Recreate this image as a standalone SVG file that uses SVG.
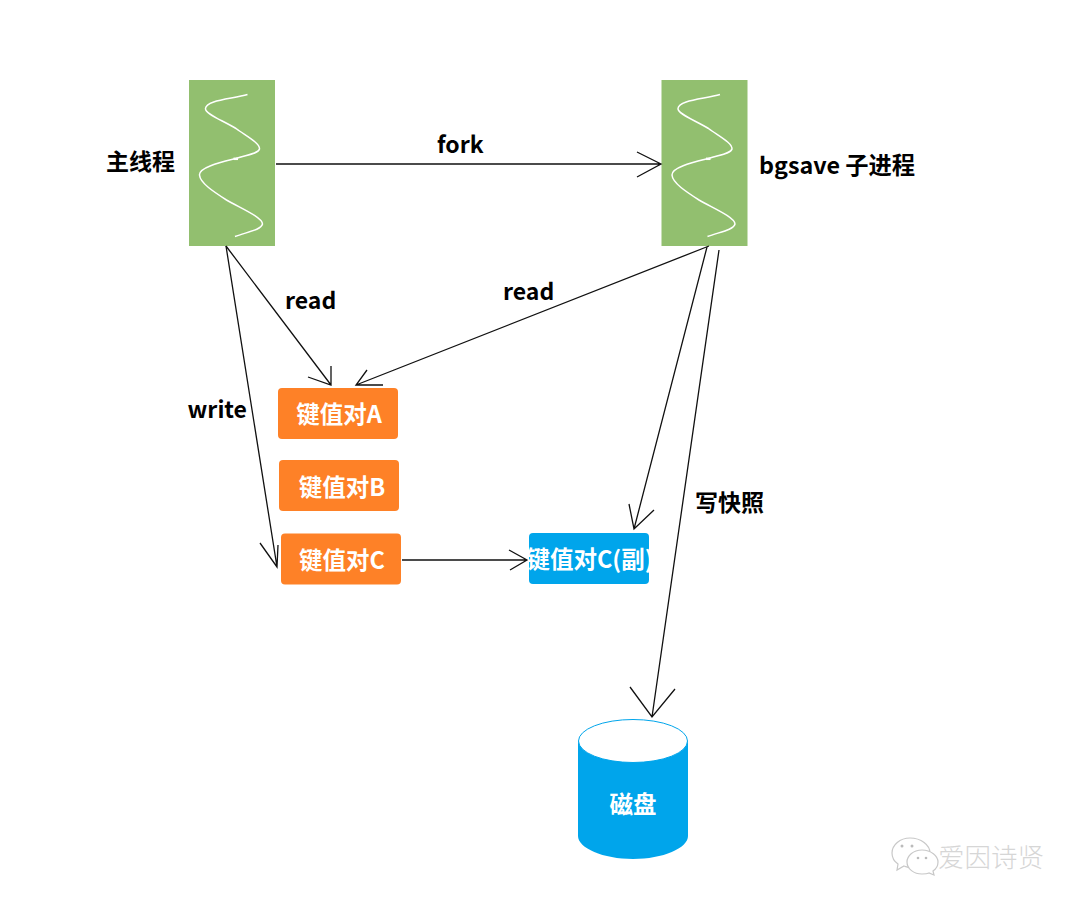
<svg xmlns="http://www.w3.org/2000/svg" width="1080" height="906" viewBox="0 0 1080 906">
<style>
text{font-family:"Noto Sans CJK SC","Liberation Sans",sans-serif;font-weight:700}
.lbl{font-size:23px;fill:#000}
.w{font-size:23.500px;fill:#fff;text-anchor:middle}
.c{fill:none;stroke:#111;stroke-width:1.300}
.wave{fill:none;stroke:#fff;stroke-width:1.500}
.o{fill:#fe8127}
.b{fill:#00a5eb}
.g{fill:#92bf6f}
.bub{fill:#fff;stroke:#c8c8c8;stroke-width:1.200}
</style>
<defs>
<g id="wave">
<path class="wave" d="M247.500 94.500C232 99 206 100 205.500 108.500C205 114 222 120 236 128.500C246 136 260 143 259.500 149C258 154 246 155 236 158.500C222 162 199 167 199.500 175C200 183 214 192 226.500 200C240 208 262 217 262.500 224C261 230 247 232 235 236.500"/>
<path class="wave" style="stroke-width:2.500" d="M233.500 158.800H238"/>
</g>
</defs>
<rect width="1080" height="906" fill="#fff"/>
<g id="node-main"><rect class="g" x="189" y="80" width="86" height="166"/><use href="#wave"/><text class="lbl" x="106" y="170">主线程</text></g>
<g id="node-bgsave"><rect class="g" x="661.500" y="80" width="86" height="166"/><use href="#wave" x="472.500"/><text class="lbl" x="759" y="174" style="font-size:23.300px">bgsave 子进程</text></g>
<g id="node-a"><rect class="o" x="278" y="388" width="120" height="51" rx="4"/><text class="w" x="339" y="422.500">键值对A</text></g>
<g id="node-b"><rect class="o" x="279" y="460" width="120" height="51" rx="4"/><text class="w" x="342" y="495.500">键值对B</text></g>
<g id="node-c"><rect class="o" x="281" y="533.500" width="120" height="51" rx="4"/><text class="w" x="342" y="568.500">键值对C</text></g>
<g id="node-c-copy"><rect class="b" x="529" y="533" width="120" height="51" rx="4"/><text class="w" x="590" y="567.500">键值对C(副)</text></g>
<g id="node-disk">
<path class="b" d="M578 741V836C578 848 603 859 633 859C663 859 688 848 688 836V741Z"/>
<ellipse cx="633" cy="741" rx="54.500" ry="21.500" fill="#fff" stroke="#00a5eb" stroke-width="1"/>
<text class="w" x="633" y="813">磁盘</text>
</g>
<g id="connectors">
<path class="c" d="M276 164H660M637 152L661 164L637 177"/>
<path class="c" d="M226 246L331 385M308 377L331 385L331 366"/>
<path class="c" d="M709 246L356 385M367 370L356 385L383 385"/>
<path class="c" d="M226 246L277 567M260 543L277 567L278 545"/>
<path class="c" d="M402 560H527M509 550L527 560L510 570" stroke-width="1.500"/>
<path class="c" d="M707 247L634 529M629 504L634 529L654 510"/>
<path class="c" d="M719 250L652 717M630 687L652 717L675 689"/>
</g>
<g id="edge-labels">
<text class="lbl" x="437" y="153">fork</text>
<text class="lbl" x="285" y="308.500">read</text>
<text class="lbl" x="503" y="300">read</text>
<text class="lbl" x="187.500" y="417.500">write</text>
<text class="lbl" x="695" y="511">写快照</text>
</g>
<g id="watermark">
<path class="bub" d="M910 838C900 838 892 845 892 853C892 858 895 862 898 864L897 870L904 866C907 867 909 868 912 868C925 868 930 860 930 853C930 845 921 838 910 838Z"/>
<path class="bub" d="M922 850C913 850 907 856 907 862C907 869 914 874 922 874C925 874 927 874 929 873L934 875L933 871C936 869 938 866 938 862C938 856 931 850 922 850Z"/>
<g fill="#bbb"><circle cx="902" cy="846" r="1.500"/><circle cx="912" cy="846" r="1.500"/><circle cx="918" cy="858" r="1.300"/><circle cx="926" cy="858" r="1.300"/></g>
<text x="938" y="867" font-size="26.500" fill="#d6d6d6" style="font-weight:300">爱因诗贤</text>
</g>
</svg>
